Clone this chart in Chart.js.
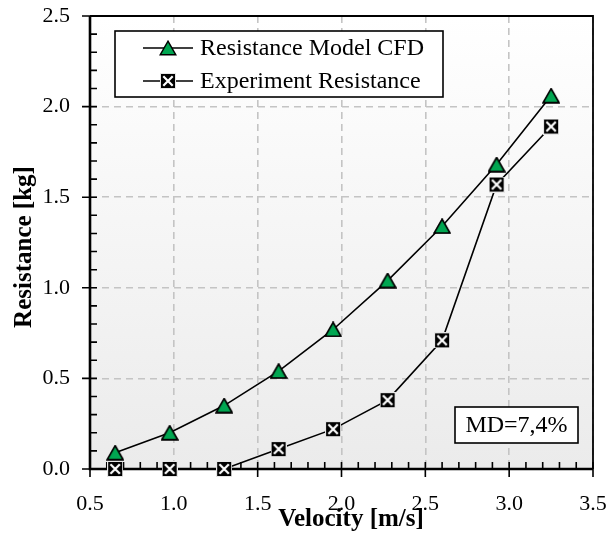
<!DOCTYPE html>
<html>
<head>
<meta charset="utf-8">
<script src="https://cdn.jsdelivr.net/npm/chart.js@4"></script>
<style>
  html, body { margin: 0; padding: 0; background: #fff; }
  #wrap { width: 608px; height: 542px; }
</style>
</head>
<body>
<div id="wrap"><canvas id="chart" width="608" height="542"></canvas></div>
<script>
const velocity = [0.65, 0.975, 1.3, 1.625, 1.95, 2.275, 2.6, 2.925, 3.25];
const cfdResistance = [0.09, 0.20, 0.35, 0.54, 0.77, 1.04, 1.34, 1.68, 2.06];
const expResistance = [0.0, 0.0, 0.0, 0.11, 0.22, 0.38, 0.71, 1.57, 1.89];
const seriesNames = ["Resistance Model CFD", "Experiment Resistance"];
const xTitle = "Velocity [m/s]";
const yTitle = "Resistance [kg]";
const mdLabel = "MD=7,4%";

const serif = "'Liberation Serif', 'Times New Roman', serif";

function triangleMarker() {
  const c = document.createElement("canvas");
  c.width = 18; c.height = 16;
  const g = c.getContext("2d");
  g.beginPath();
  g.moveTo(9, 1.2);
  g.lineTo(16.8, 14.8);
  g.lineTo(1.2, 14.8);
  g.closePath();
  g.fillStyle = "#00a651";
  g.fill();
  g.lineWidth = 1.4;
  g.strokeStyle = "#000";
  g.stroke();
  return c;
}

function squareMarker() {
  const c = document.createElement("canvas");
  c.width = 16; c.height = 16;
  const g = c.getContext("2d");
  g.fillStyle = "#e6e6e6";
  g.fillRect(0, 0, 16, 16);
  g.fillStyle = "#000";
  g.fillRect(1, 1, 14, 14);
  g.strokeStyle = "#fff";
  g.lineWidth = 2.2;
  g.beginPath();
  g.moveTo(3.3, 3.3); g.lineTo(12.7, 12.7);
  g.moveTo(12.7, 3.3); g.lineTo(3.3, 12.7);
  g.stroke();
  return c;
}

const triImg = triangleMarker();
const sqImg = squareMarker();

const toPoints = (ys) => velocity.map((x, i) => ({ x: x, y: ys[i] }));

// axis frame with inward minor ticks, drawn from the chart's scales
function drawFrame(chart) {
  const ctx = chart.ctx;
  const a = chart.chartArea;
  const xs = chart.scales.x, ys = chart.scales.y;
  ctx.save();
  ctx.setLineDash([]);
  ctx.strokeStyle = "#000";
  ctx.lineWidth = 1.8;
  ctx.beginPath();
  ctx.moveTo(a.left, a.top); ctx.lineTo(a.right, a.top); ctx.lineTo(a.right, a.bottom);
  ctx.stroke();
  ctx.lineWidth = 1.6;
  ctx.beginPath();
  for (let i = 5; i <= 35; i++) {
    const px = xs.getPixelForValue(i / 10);
    const major = i % 5 === 0;
    ctx.moveTo(px, a.bottom + (major ? 8 : 0));
    ctx.lineTo(px, a.bottom - 7);
  }
  for (let i = 0; i <= 25; i++) {
    const py = ys.getPixelForValue(i / 10);
    const major = i % 5 === 0;
    ctx.moveTo(a.left - (major ? 8 : 0), py);
    ctx.lineTo(a.left + 7, py);
  }
  ctx.stroke();
  ctx.lineWidth = 2.6;
  ctx.beginPath();
  ctx.moveTo(a.left, a.top); ctx.lineTo(a.left, a.bottom); ctx.lineTo(a.right, a.bottom);
  ctx.stroke();
  ctx.restore();
}

const frame = {
  id: "frame",
  beforeDraw(chart) {
    const { ctx, chartArea: a } = chart;
    const grad = ctx.createLinearGradient(0, a.top, 0, a.bottom);
    grad.addColorStop(0, "#ffffff");
    grad.addColorStop(1, "#ebebeb");
    ctx.save();
    ctx.fillStyle = grad;
    ctx.fillRect(a.left, a.top, a.right - a.left, a.bottom - a.top);
    ctx.restore();
  },
  afterDraw(chart) {
    const { ctx } = chart;
    drawFrame(chart);
    // markers back on top of the axis lines
    chart.data.datasets.forEach((ds, i) => {
      chart.getDatasetMeta(i).data.forEach((pt) => pt.draw(ctx, chart.chartArea));
    });

    ctx.save();
    ctx.fillStyle = "#000";
    ctx.textAlign = "center";
    ctx.textBaseline = "alphabetic";
    ctx.font = "bold 25px " + serif;
    ctx.fillText(xTitle, 351, 526);
    ctx.translate(31, 247);
    ctx.rotate(-Math.PI / 2);
    ctx.fillText(yTitle, 0, 0);
    ctx.restore();

    ctx.save();
    ctx.fillStyle = "#fff";
    ctx.fillRect(115, 31, 328, 66);
    ctx.strokeStyle = "#000";
    ctx.lineWidth = 1.6;
    ctx.strokeRect(115, 31, 328, 66);
    const rows = [[48, triImg], [81, sqImg]];
    ctx.font = "24px " + serif;
    ctx.textBaseline = "middle";
    ctx.fillStyle = "#000";
    rows.forEach(([y, img], i) => {
      ctx.lineWidth = 1.6;
      ctx.beginPath();
      ctx.moveTo(143, y); ctx.lineTo(193, y);
      ctx.stroke();
      ctx.drawImage(img, 168 - img.width / 2, y - img.height / 2);
      ctx.fillText(seriesNames[i], 200, y + 1);
    });
    ctx.fillStyle = "#fff";
    ctx.fillRect(455, 407, 123, 36);
    ctx.strokeRect(455, 407, 123, 36);
    ctx.fillStyle = "#000";
    ctx.textAlign = "center";
    ctx.fillText(mdLabel, 516.5, 426);
    ctx.restore();
  }
};

new Chart(document.getElementById("chart"), {
  type: "line",
  data: {
    datasets: [
      {
        label: seriesNames[0],
        data: toPoints(cfdResistance),
        borderColor: "#000",
        borderWidth: 1.6,
        pointStyle: triImg,
        tension: 0,
        clip: false
      },
      {
        label: seriesNames[1],
        data: toPoints(expResistance),
        borderColor: "#000",
        borderWidth: 1.6,
        pointStyle: sqImg,
        tension: 0,
        clip: false
      }
    ]
  },
  options: {
    responsive: false,
    animation: false,
    layout: { padding: { top: 16, right: 15, left: 0, bottom: 0 } },
    plugins: { legend: { display: false }, tooltip: { enabled: false } },
    scales: {
      x: {
        type: "linear",
        min: 0.5,
        max: 3.5,
        afterFit(s) { s.height = 73; s.paddingLeft = 0; s.paddingRight = 0; },
        ticks: {
          stepSize: 0.5,
          color: "#000",
          padding: 22,
          font: { family: serif, size: 22 },
          callback: (v) => v.toFixed(1)
        },
        grid: { color: "#c4c4c4", lineWidth: 1.6, drawTicks: false },
        border: { display: false, dash: [7, 5] }
      },
      y: {
        min: 0,
        max: 2.5,
        afterFit(s) { s.width = 90; s.paddingTop = 0; s.paddingBottom = 0; },
        ticks: {
          stepSize: 0.5,
          color: "#000",
          padding: 20,
          font: { family: serif, size: 22 },
          callback: (v) => v.toFixed(1)
        },
        grid: { color: "#c4c4c4", lineWidth: 1.6, drawTicks: false },
        border: { display: false, dash: [7, 5] }
      }
    }
  },
  plugins: [frame]
});
</script>
</body>
</html>
